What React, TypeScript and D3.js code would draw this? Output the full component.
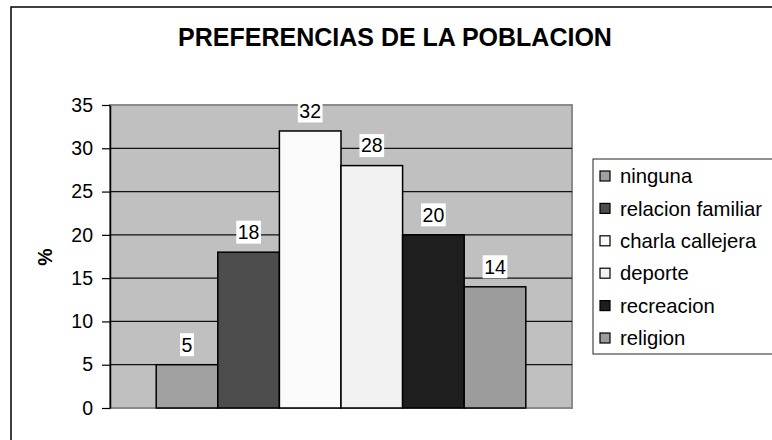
import React, { useEffect, useRef } from "react";
import * as d3 from "d3";

const title = "PREFERENCIAS DE LA POBLACION";
const yAxisTitle = "%";
const categories = ["ninguna", "relacion familiar", "charla callejera", "deporte", "recreacion", "religion"];
const values = [5, 18, 32, 28, 20, 14];
const colors = ["#a0a0a0", "#4d4d4d", "#fafafa", "#f2f2f2", "#1e1e1e", "#9c9c9c"];
const yTicks = [0, 5, 10, 15, 20, 25, 30, 35];

const W = 772;
const H = 440;
const plot = { left: 110, right: 572, top: 105, bottom: 408 };
const FONT = "'Liberation Sans', Arial, sans-serif";

export default function App() {
  const axisRef = useRef<SVGGElement>(null);

  const y = d3.scaleLinear().domain([0, 35]).range([plot.bottom, plot.top]);
  const group = d3.scaleBand<string>().domain(["g"]).range([plot.left, plot.right]).paddingInner(0).paddingOuter(0.125);
  const gx = group("g") as number;
  const x = d3.scaleBand<string>().domain(categories).range([gx, gx + group.bandwidth()]).padding(0);

  useEffect(() => {
    if (!axisRef.current) return;
    const g = d3.select(axisRef.current);
    g.selectAll("*").remove();
    g.call(d3.axisLeft(y).tickValues(yTicks).tickSize(8).tickPadding(9).tickSizeOuter(0));
    g.select(".domain").attr("stroke", "#000").attr("stroke-width", 1.5);
    g.selectAll(".tick line").attr("stroke", "#000").attr("stroke-width", 1.2);
    g.selectAll(".tick text").attr("font-size", 19.5).attr("font-family", FONT).attr("fill", "#000");
  }, []);

  const labelFont = 19.5;

  return (
    <svg width={W} height={H} style={{ position: "absolute", left: 0, top: 0, background: "#fff" }}>
      <rect x={11} y={7} width={W + 20} height={H + 20} fill="#fff" stroke="#000" strokeWidth={1.5} />
      <text x={395} y={46} textAnchor="middle" fontFamily={FONT} fontWeight="bold" fontSize={25} fill="#000">
        {title}
      </text>
      <rect x={plot.left} y={plot.top} width={plot.right - plot.left} height={plot.bottom - plot.top} fill="#c0c0c0" stroke="#8a8a8a" strokeWidth={2} />
      {yTicks.filter((t) => t > 0 && t < 35).map((t) => (
        <line key={t} x1={plot.left} x2={plot.right} y1={y(t)} y2={y(t)} stroke="#111" strokeWidth={1.3} />
      ))}
      {categories.map((c, i) => (
        <rect key={c} x={x(c)} y={y(values[i])} width={x.bandwidth()} height={y(0) - y(values[i])} fill={colors[i]} stroke="#000" strokeWidth={1.5} />
      ))}
      {categories.map((c, i) => {
        const cx = (x(c) as number) + x.bandwidth() / 2;
        const cy = y(values[i]) - 20;
        const txt = String(values[i]);
        const w = txt.length * 0.556 * labelFont + 3;
        return (
          <g key={"l" + c}>
            <rect x={cx - w / 2} y={cy - 11.5} width={w} height={23} fill="#fff" />
            <text x={cx} y={cy} dy="0.35em" textAnchor="middle" fontFamily={FONT} fontSize={labelFont} fill="#000">
              {txt}
            </text>
          </g>
        );
      })}
      <g ref={axisRef} transform={`translate(${plot.left},0)`} />
      <text transform={`translate(45,257) rotate(-90)`} textAnchor="middle" dy="0.35em" fontFamily={FONT} fontWeight="bold" fontSize={19.5} fill="#000">
        {yAxisTitle}
      </text>
      <rect x={593} y={159} width={W} height={195} fill="#fff" stroke="#222" strokeWidth={1} />
      {categories.map((c, i) => {
        const cy = 176 + i * 32.4;
        return (
          <g key={"lg" + c}>
            <rect x={600} y={cy - 5} width={10} height={10} fill={colors[i]} stroke="#000" strokeWidth={1.2} />
            <text x={620} y={cy} dy="0.35em" fontFamily={FONT} fontSize={20.3} fill="#000">
              {c}
            </text>
          </g>
        );
      })}
    </svg>
  );
}
